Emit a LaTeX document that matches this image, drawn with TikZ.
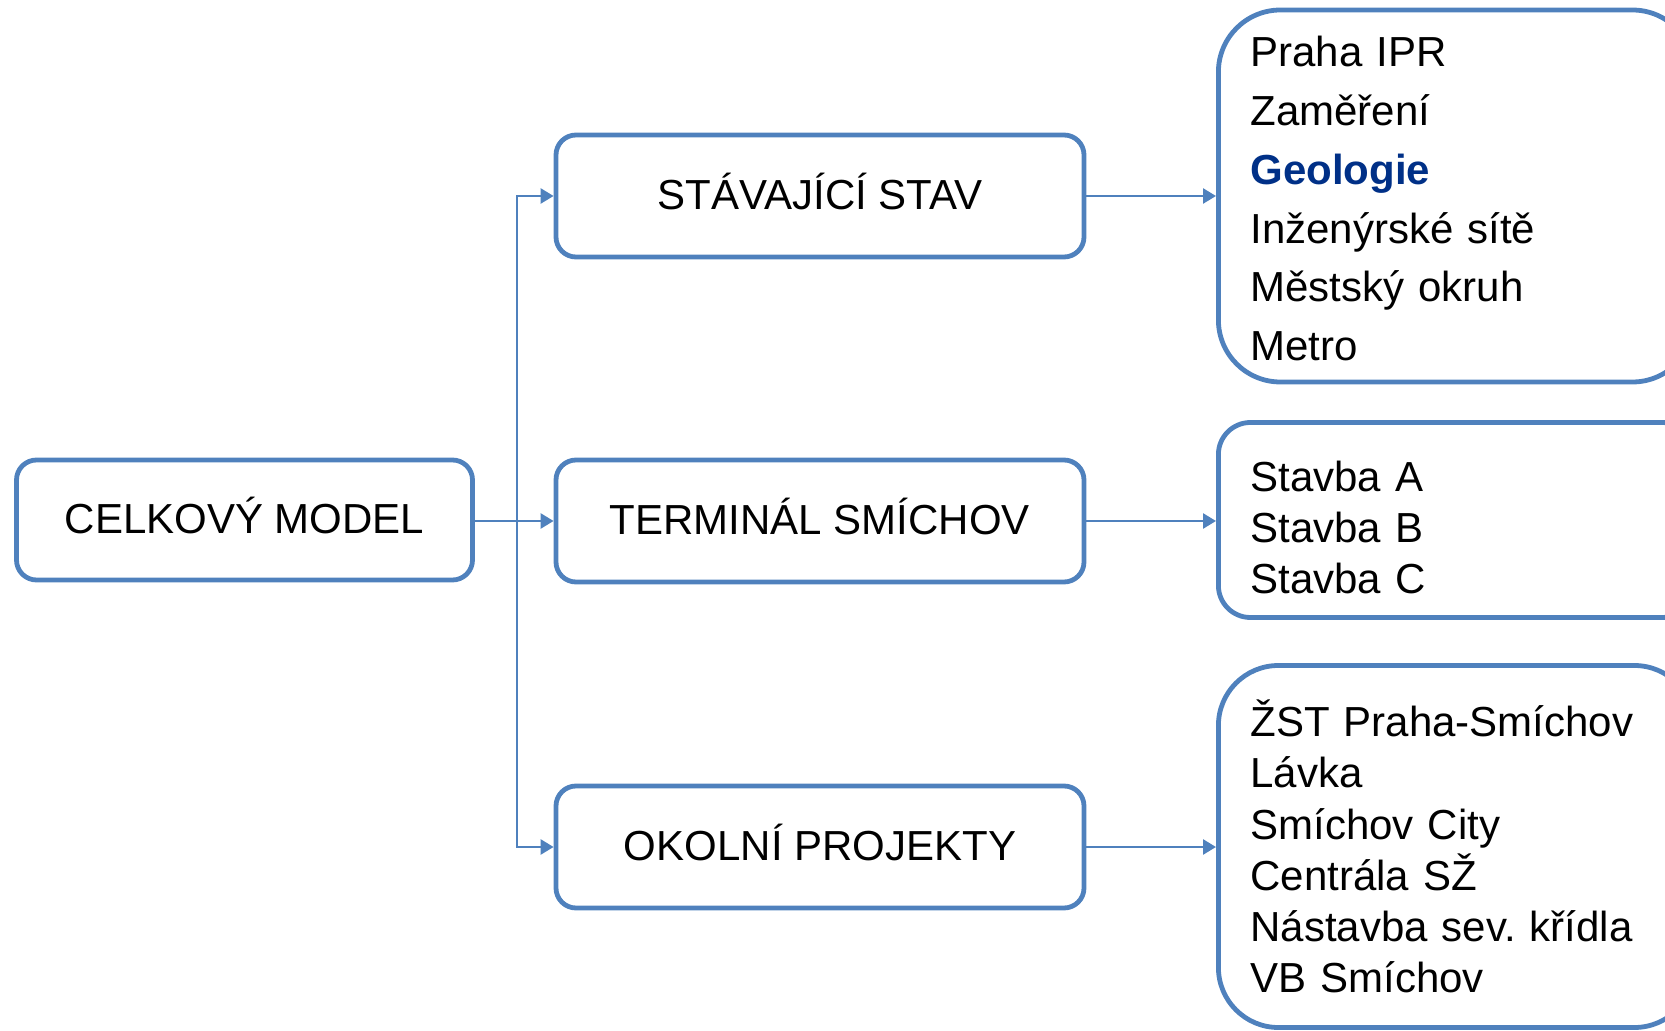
\documentclass[tikz,border=0pt]{standalone}
\usepackage{fontspec}
\setmainfont{Liberation Sans}
\usetikzlibrary{arrows.meta}
\frenchspacing

\definecolor{boxblue}{RGB}{79,129,189}
\definecolor{geoblue}{RGB}{0,48,135}

\tikzset{
  mainbox/.style={draw=boxblue, line width=2.4pt, rounded corners=10pt,
    inner sep=0pt, text height=15pt, text depth=1.5pt, font=\fontsize{21}{25}\selectfont},
  listbox/.style={draw=boxblue, line width=2.4pt, anchor=west, align=left,
    inner xsep=16pt, inner ysep=0pt, text width=206pt, minimum width=238pt},
  link/.style={draw=boxblue, line width=1.3pt, -{Triangle[length=6.5pt,width=7.5pt]}},
}

\begin{document}
\begin{tikzpicture}[x=0.5pt, y=-0.5pt]
  \clip (0,0) rectangle (1665,1031);
  % left and middle boxes
  \node (celkovy) [mainbox, minimum width=228pt, minimum height=60pt] at (244.5, 520) {CELKOVÝ MODEL};
  \begin{scope}[every node/.style={mainbox, minimum width=264pt, minimum height=61pt}]
    \node (stav) at (820, 196) {STÁVAJÍCÍ STAV};
    \node (terminal) at (820, 521) {TERMINÁL SMÍCHOV};
    \node (okolni) at (820, 847) {OKOLNÍ PROJEKTY};
  \end{scope}
  % right lists
  \node (stavlist) [listbox, rounded corners=31pt, minimum height=186pt,
    font=\fontsize{21}{29.4}\selectfont] at (1216, 196)
    {\rule{0pt}{18pt}Praha IPR\\Zaměření\\\textcolor{geoblue}{\textbf{Geologie}}\\Inženýrské sítě\\Městský okruh\\Metro};
  \node (terminallist) [listbox, rounded corners=16pt, minimum height=97.5pt,
    font=\fontsize{21}{25.5}\selectfont] at (1216, 520)
    {\rule{0pt}{22.5pt}Stavba A\\Stavba B\\Stavba C};
  \node (okolnilist) [listbox, rounded corners=30pt, minimum height=181pt,
    font=\fontsize{21}{25.6}\selectfont] at (1216, 846.5)
    {ŽST Praha-Smíchov\\Lávka\\Smíchov City\\Centrála SŽ\\Nástavba sev. křídla\\VB Smíchov};
  % connectors
  \coordinate (branch) at (517, 521);
  \draw[link] (celkovy.east |- branch) -- (terminal.west);
  \draw[link] (branch) |- (stav.west);
  \draw[link] (branch) |- (okolni.west);
  \draw[link] (stav.east) -- (stav.east -| stavlist.west);
  \draw[link] (terminal.east) -- (terminal.east -| terminallist.west);
  \draw[link] (okolni.east) -- (okolni.east -| okolnilist.west);
\end{tikzpicture}
\end{document}
